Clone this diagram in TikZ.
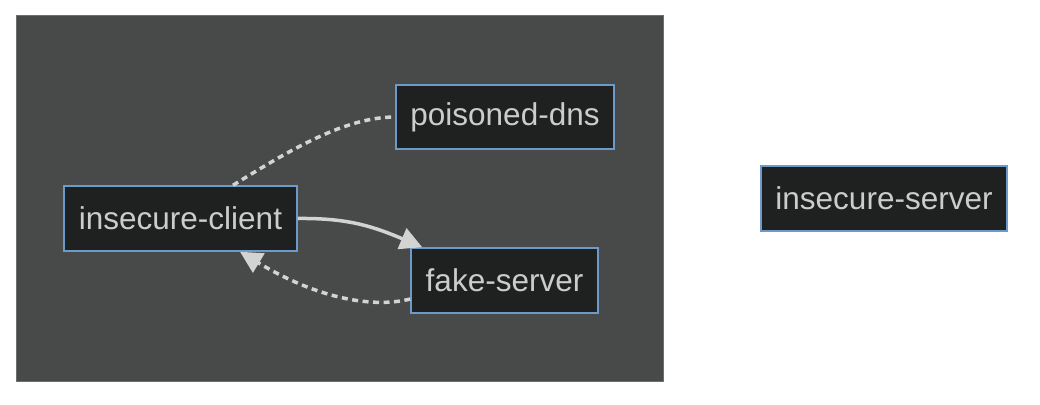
\documentclass[tikz,border=0pt]{standalone}
\usepackage{fontspec}
\setmainfont{Liberation Sans}
\usetikzlibrary{arrows.meta,calc}
\definecolor{clusterfill}{HTML}{484949}
\definecolor{clusterline}{HTML}{6E6E6E}
\definecolor{nodefill}{HTML}{1F2020}
\definecolor{nodeline}{HTML}{6C9ACB}
\definecolor{nodetext}{HTML}{CCCCCC}
\definecolor{edgecol}{HTML}{D3D3D3}
\tikzset{
  box/.style={draw=nodeline, fill=nodefill, line width=1.5pt, inner sep=0pt,
    minimum height=65pt, text=nodetext, font=\fontsize{31.5}{36}\selectfont},
  link/.style={draw=edgecol, line width=3.5pt},
  dottedlink/.style={link, dash pattern=on 6pt off 4.5pt},
  tip/.style={-{Triangle[length=22pt,width=22pt]}, edgecol}
}
\begin{document}
\begin{tikzpicture}[x=1pt,y=-1pt]
\useasboundingbox (0,0) rectangle (1040,404);
\fill[white] (0,0) rectangle (1040,404);
\draw[fill=clusterfill, draw=clusterline, line width=1pt] (16,16) rectangle (663,381);
\node[box, minimum width=233pt] (client) at (180.5,218.5) {insecure-client};
\node[box, minimum width=218pt, minimum height=64pt] (dns) at (505,117) {poisoned-dns};
\node[box, minimum width=187pt] (fake) at (504.5,280.5) {fake-server};
\node[box, minimum width=246pt] (server) at (884,198.5) {insecure-server};
% client -- dns (dotted, no tip)
\draw[dottedlink] ([xshift=52.5pt]client.north) .. controls (290,150) and (345,117) .. (dns.west);
% client -> fake (solid)
\draw[link, tip] (client.east) .. controls (345,218) and (370,225) .. ([xshift=12pt]fake.north west);
% fake -> client (dotted)
\draw[dottedlink, tip] ([yshift=-18.5pt]fake.west) .. controls (375,308) and (320,300) .. ([xshift=59.5pt]client.south);
\end{tikzpicture}
\end{document}
